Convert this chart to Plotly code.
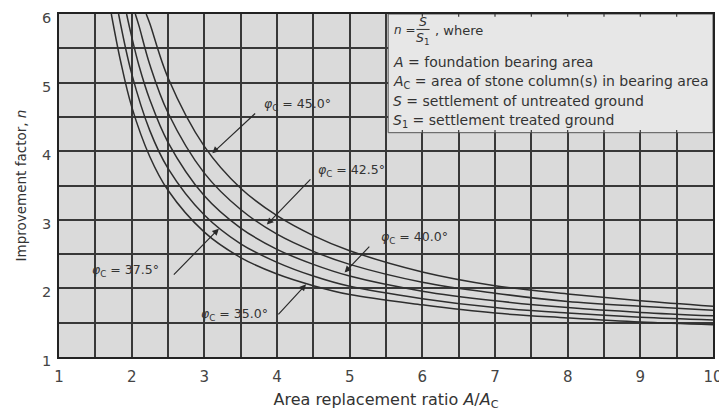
import plotly.graph_objects as go

# Area replacement ratio A/Ac (x) and improvement factor n (y)
x_35 = [1.72, 1.85, 2.0, 2.25, 2.5, 3.0, 3.5, 4.0, 4.5, 5.0, 6.0, 7.0, 8.0, 9.0, 10.0]
n_35 = [6.0, 5.30, 4.65, 3.92, 3.43, 2.82, 2.45, 2.21, 2.04, 1.91, 1.76, 1.64, 1.57, 1.51, 1.47]

x_375 = [1.82, 2.0, 2.25, 2.5, 3.0, 3.5, 4.0, 4.5, 5.0, 6.0, 7.0, 8.0, 9.0, 10.0]
n_375 = [6.0, 5.13, 4.30, 3.75, 3.07, 2.65, 2.38, 2.18, 2.03, 1.85, 1.72, 1.64, 1.58, 1.54]

x_40 = [1.93, 2.0, 2.1, 2.25, 2.5, 3.0, 3.5, 4.0, 4.5, 5.0, 6.0, 7.0, 8.0, 9.0, 10.0]
n_40 = [6.0, 5.67, 5.25, 4.75, 4.13, 3.35, 2.88, 2.57, 2.35, 2.18, 1.96, 1.82, 1.72, 1.65, 1.60]

x_425 = [2.05, 2.1, 2.25, 2.5, 3.0, 3.5, 4.0, 4.5, 5.0, 6.0, 7.0, 8.0, 9.0, 10.0]
n_425 = [6.0, 5.83, 5.26, 4.56, 3.68, 3.15, 2.79, 2.54, 2.35, 2.09, 1.93, 1.81, 1.74, 1.68]

x_45 = [2.2, 2.25, 2.5, 3.0, 3.5, 4.0, 4.5, 5.0, 6.0, 7.0, 8.0, 9.0, 10.0]
n_45 = [6.0, 5.86, 5.07, 4.07, 3.46, 3.06, 2.77, 2.55, 2.24, 2.04, 1.92, 1.82, 1.74]

curves = [(x_35, n_35), (x_375, n_375), (x_40, n_40), (x_425, n_425), (x_45, n_45)]

# label text, arrow tip (x, y), arrow tail (x, y), label left position
labels = ["45.0°", "42.5°", "40.0°", "37.5°", "35.0°"]
tips = [(3.11, 3.97), (3.86, 2.93), (4.93, 2.23), (3.2, 2.87), (4.4, 2.06)]
tails = [(3.72, 4.57), (4.48, 3.61), (5.29, 2.63), (2.56, 2.18), (4.0, 1.60)]
label_pos = [(3.80, 4.68), (4.54, 3.72), (5.40, 2.74), (1.42, 2.26), (2.92, 1.62)]

legend_lines = [
    "<i>A</i> = foundation bearing area",
    "<i>A</i><sub>C</sub> = area of stone column(s) in bearing area",
    "<i>S</i> = settlement of untreated ground",
    "<i>S</i><sub>1</sub> = settlement treated ground",
]
legend_y = [5.30, 5.01, 4.73, 4.44]

x_ticks = list(range(1, 11))
y_ticks = list(range(1, 7))

FONT = "DejaVu Sans, Verdana, sans-serif"
GRID = "#383838"
TXT = "#333333"

fig = go.Figure()
for xs, ys in curves:
    fig.add_trace(go.Scatter(x=xs, y=ys, mode="lines",
                             line=dict(color="#2e2e2e", width=1.5, shape="spline", smoothing=1.0),
                             showlegend=False, hoverinfo="skip"))

ann = []
for lab, tip, tail, lp in zip(labels, tips, tails, label_pos):
    ann.append(dict(x=tip[0], y=tip[1], ax=tail[0], ay=tail[1], xref="x", yref="y",
                    axref="x", ayref="y", text="", showarrow=True, arrowhead=2,
                    arrowsize=1.1, arrowwidth=1.2, arrowcolor="#2a2a2a"))
    ann.append(dict(x=lp[0], y=lp[1], xref="x", yref="y", xanchor="left", yanchor="middle",
                    text="<i>φ</i><sub>C</sub> = " + lab, showarrow=False,
                    font=dict(family=FONT, size=12.5, color=TXT)))

# legend box text
ann.append(dict(x=5.58, y=5.77, xref="x", yref="y", xanchor="left", yanchor="middle",
                text="<i>n</i> =", showarrow=False, font=dict(family=FONT, size=12, color=TXT)))
ann.append(dict(x=6.01, y=5.89, xref="x", yref="y", xanchor="center", yanchor="middle",
                text="<i>S</i>", showarrow=False, font=dict(family=FONT, size=12.5, color=TXT)))
ann.append(dict(x=6.01, y=5.64, xref="x", yref="y", xanchor="center", yanchor="middle",
                text="<i>S</i><sub>1</sub>", showarrow=False, font=dict(family=FONT, size=12.5, color=TXT)))
ann.append(dict(x=6.15, y=5.76, xref="x", yref="y", xanchor="left", yanchor="middle",
                text=", where", showarrow=False, font=dict(family=FONT, size=13, color=TXT)))
for t, yy in zip(legend_lines, legend_y):
    ann.append(dict(x=5.57, y=yy, xref="x", yref="y", xanchor="left", yanchor="middle",
                    text=t, showarrow=False, font=dict(family=FONT, size=14, color=TXT)))

shapes = [
    dict(type="rect", xref="x", yref="y", x0=5.53, x1=10, y0=4.27, y1=6,
         fillcolor="#e7e7e7", line=dict(color="#555555", width=1), layer="above"),
    dict(type="line", xref="x", yref="y", x0=5.92, x1=6.10, y0=5.775, y1=5.775,
         line=dict(color=TXT, width=1), layer="above"),
]
# grid stubs along the top and bottom edges of the box
for k in range(12, 20):
    gx = k * 0.5
    for yb, yt in [(5.96, 6.0), (4.27, 4.31)]:
        shapes.append(dict(type="line", xref="x", yref="y", x0=gx, x1=gx, y0=yb, y1=yt,
                           line=dict(color=GRID, width=1.2), layer="above"))

axis_common = dict(showline=True, linecolor="#222222", linewidth=1.5, mirror=True,
                   showgrid=True, gridcolor=GRID, gridwidth=1.5, zeroline=False,
                   automargin=False, ticklabeloverflow="allow")

# the page body has an 8px margin, so the figure is sized/offset to land on the reference frame
fig.update_layout(
    width=719, height=404,
    margin=dict(l=51, r=14, t=6, b=55),
    paper_bgcolor="white", plot_bgcolor="#dadada",
    xaxis=dict(range=[1, 10], tickvals=x_ticks, ticktext=[str(v) for v in x_ticks],
               ticks="outside", ticklen=5, tickcolor="rgba(0,0,0,0)",
               tickfont=dict(family=FONT, size=15, color="#444444"),
               minor=dict(dtick=0.5, showgrid=True, gridcolor=GRID, gridwidth=1.5),
               title=dict(text="Area replacement ratio <i>A</i>/<i>A</i><sub>C</sub>",
                          font=dict(family=FONT, size=16, color=TXT), standoff=9),
               **axis_common),
    yaxis=dict(range=[1, 6], tickvals=y_ticks, ticktext=[str(v) for v in y_ticks],
               ticks="outside", ticklen=3, tickcolor="rgba(0,0,0,0)",
               ticklabelshift=4,
               tickfont=dict(family=FONT, size=14.5, color="#444444"),
               minor=dict(dtick=0.5, showgrid=True, gridcolor=GRID, gridwidth=1.5),
               title=dict(text="Improvement factor, <i>n</i>",
                          font=dict(family=FONT, size=13.5, color=TXT), standoff=12),
               **axis_common),
    annotations=ann,
    shapes=shapes,
)

fig.write_html("out.html")
